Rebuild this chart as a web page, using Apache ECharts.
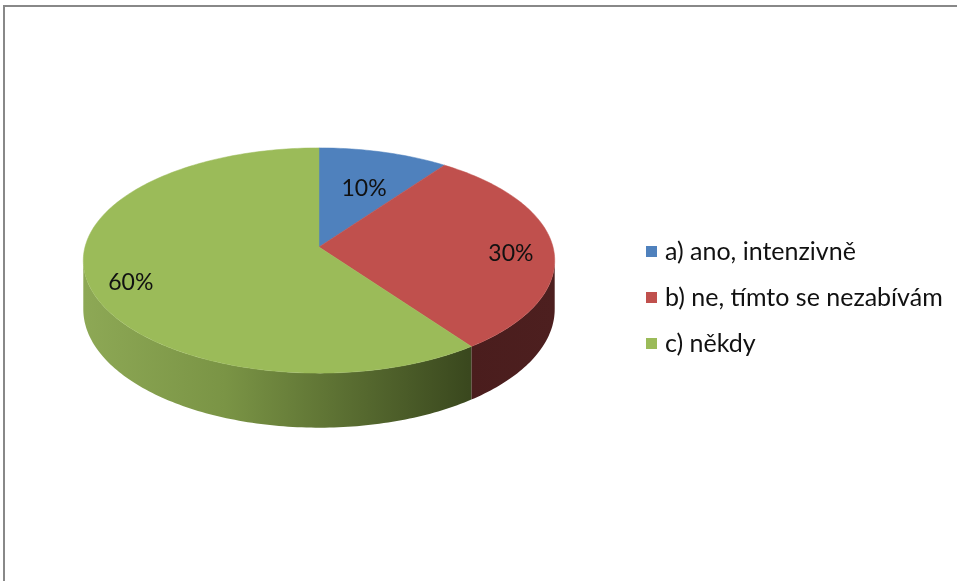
<!DOCTYPE html>
<html>
<head>
<meta charset="utf-8">
<script src="https://cdn.jsdelivr.net/npm/echarts@6/dist/echarts.min.js"></script>
<style>
  html, body { margin: 0; padding: 0; background: #fff; }
  #chart { width: 957px; height: 581px; }
</style>
</head>
<body>
<div id="chart"></div>
<script>
// Survey answers and their shares (percent)
const categories = ['a) ano, intenzivně', 'b) ne, tímto se nezabívám', 'c) někdy'];
const shares = [10, 30, 60];

// Top-face colours and side-wall gradient stops (left -> right across the pie)
const topColors = ['#4F81BD', '#C0504D', '#9BBB59'];
const sideStops = [
  [[0, '#5a7fb0'], [0.82, '#27405f'], [1, '#27405f']],
  [[0, '#5a2525'], [0.82, '#4a1d1d'], [1, '#4d1f1f']],
  [[0, '#8da855'], [0.3, '#7a9445'], [0.82, '#3a481e'], [1, '#36431b']]
];

// Perspective pie geometry
const CX = 319, CY = 247;      // projected centre of the top face
const RX = 234, RY = 111;      // radii of the projected top face
const K = 0.12;                // perspective strength (far side smaller)
const DEPTH = 48;              // thickness of the pie
const LABEL_DY = 7;

function project(theta, r, drop) {
  const u = r * Math.sin(theta), v = r * Math.cos(theta);
  const s = 1 / (1 + K * v);
  return [CX + RX * u * s, CY - RY * v * s + drop * s];
}

function arc(a, b, drop) {
  const pts = [];
  const n = Math.max(2, Math.ceil(Math.abs(b - a) / (Math.PI / 180)));
  for (let i = 0; i <= n; i++) {
    pts.push(project(a + (b - a) * i / n, 1, drop));
  }
  return pts;
}

// Angular range of the visible front wall (between the silhouette tangents)
const FRONT_A = Math.acos(-K);
const FRONT_B = 2 * Math.PI - Math.acos(-K);

const total = shares.reduce((s, v) => s + v, 0);
const starts = [];
shares.reduce((acc, v, i) => { starts[i] = acc; return acc + v; }, 0);

function renderSlice(idx) {
  return function (params, api) {
    const start = api.value(0), val = api.value(1);
    const a = start / total * 2 * Math.PI;
    const b = (start + val) / total * 2 * Math.PI;
    const children = [];

    // front wall
    const sa = Math.max(a, FRONT_A), sb = Math.min(b, FRONT_B);
    if (sb > sa) {
      const topArc = arc(sa, sb, 0);
      const botArc = arc(sb, sa, DEPTH);
      children.push({
        type: 'polygon',
        shape: { points: topArc.concat(botArc) },
        style: {
          fill: new echarts.graphic.LinearGradient(CX - RX, 0, CX + RX, 0,
            sideStops[idx].map(s => ({ offset: s[0], color: s[1] })), true),
          stroke: null
        }
      });
    }

    // top face
    children.push({
      type: 'polygon',
      shape: { points: [[CX, CY]].concat(arc(a, b, 0)) },
      style: { fill: topColors[idx], stroke: topColors[idx], lineWidth: 0.5 }
    });

    // percentage label (narrow slices keep their label nearer the centre)
    const frac = val / total;
    const mid = (a + b) / 2;
    const p = project(mid, frac < 0.15 ? 0.67 : 0.82, 0);
    children.push({
      type: 'text',
      z2: 10,
      style: {
        text: Math.round(frac * 100) + '%',
        x: p[0], y: p[1] + LABEL_DY,
        align: 'center', verticalAlign: 'middle',
        fill: '#111',
        font: '23px Lato'
      }
    });

    return { type: 'group', children: children };
  };
}

const chart = echarts.init(document.getElementById('chart'), null, { renderer: 'canvas' });

chart.setOption({
  backgroundColor: '#ffffff',
  animation: false,
  legend: {
    data: categories,
    orient: 'vertical',
    left: 641,
    top: 234,
    icon: 'rect',
    itemWidth: 11,
    itemHeight: 11,
    itemGap: 21,
    textStyle: { fontFamily: 'Lato', fontSize: 25, color: '#111', lineHeight: 25, padding: [0, 0, 0, 3] }
  },
  graphic: [
    { type: 'line', shape: { x1: 4, y1: 6, x2: 957, y2: 6 }, style: { stroke: '#888', lineWidth: 2 } },
    { type: 'line', shape: { x1: 4, y1: 5, x2: 4, y2: 581 }, style: { stroke: '#888', lineWidth: 2 } }
  ],
  series: categories.map((name, i) => ({
    type: 'custom',
    name: name,
    coordinateSystem: 'none',
    itemStyle: { color: topColors[i] },
    data: [[starts[i], shares[i]]],
    renderItem: renderSlice(i)
  }))
});
</script>
</body>
</html>
